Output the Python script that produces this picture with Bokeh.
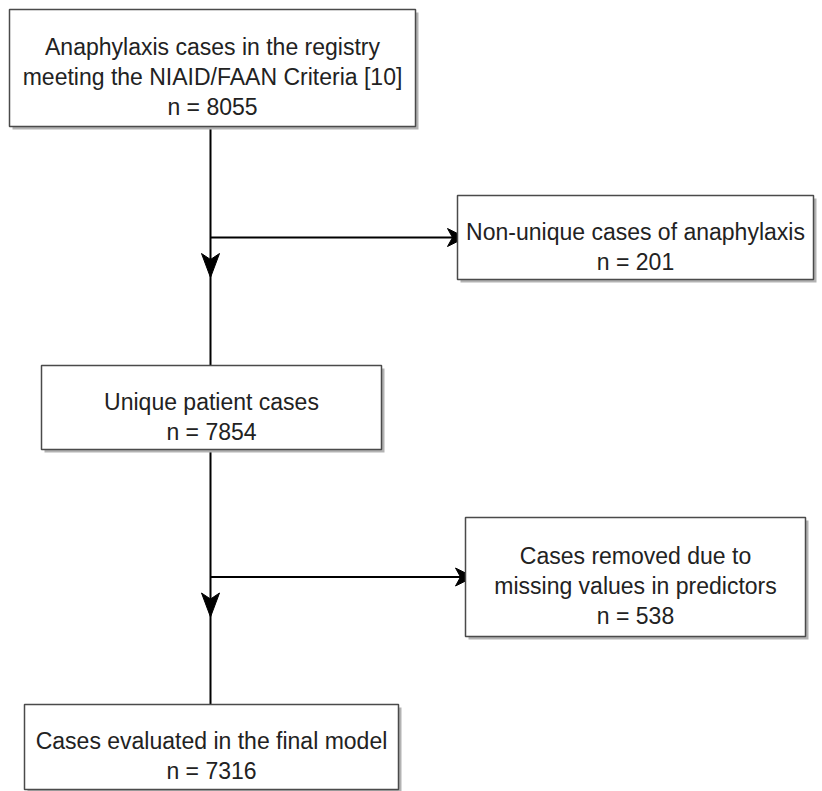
from bokeh.plotting import figure
from bokeh.models import Range1d
from bokeh.core.properties import value
from bokeh.embed import file_html
from bokeh.resources import INLINE

# ---- content ----
labels = [
    "Anaphylaxis cases in the registry\nmeeting the NIAID/FAAN Criteria [10]",
    "Non-unique cases of anaphylaxis",
    "Unique patient cases",
    "Cases removed due to\nmissing values in predictors",
    "Cases evaluated in the final model",
]
counts = [8055, 201, 7854, 538, 7316]

# ---- layout (pixel coordinates, y downward) ----
box_left = [9, 457, 41, 465, 24]
box_top = [9, 195, 365, 517, 704]
box_right = [415, 813, 381, 805, 398]
box_bottom = [126, 279, 449, 636, 789]

trunk_x = 210
main_boxes = [0, 2, 4]      # boxes on the vertical trunk
side_boxes = [1, 3]         # exclusion boxes
FONT = "Liberation Sans"
FS = 23
LINE_GAP = 30
CAP = 16.7

W, H = 822, 791
p = figure(width=W, height=H, output_backend="svg", toolbar_location=None,
           x_range=Range1d(0, W), y_range=Range1d(H, 0),
           min_border=0)
p.styles = {"position": "absolute", "left": "0px", "top": "0px"}
p.axis.visible = False
p.grid.visible = False
p.outline_line_color = None
p.background_fill_color = "white"
p.border_fill_color = "white"

# ---- connectors ----
LINE_W = 2
# vertical trunk segments between main boxes
for a, b in zip(main_boxes[:-1], main_boxes[1:]):
    p.line([trunk_x, trunk_x], [box_bottom[a], box_top[b]], line_color="black", line_width=LINE_W)

# horizontal branches to side boxes and arrowheads
for s in side_boxes:
    cy = (box_top[s] + box_bottom[s]) / 2
    tip_x = box_left[s] + 8
    p.line([trunk_x, tip_x - 10], [cy, cy], line_color="black", line_width=LINE_W)
    # right-pointing classic arrowhead
    L, N, HW = 18, 13, 9
    p.patch([tip_x, tip_x - L, tip_x - N, tip_x - L],
            [cy, cy - HW, cy, cy + HW], fill_color="black", line_color="black", line_width=1)
    # down-pointing arrowhead on the trunk below the branch
    tip_y = cy + 40
    L2, N2, HW2 = 24, 18, 9
    p.patch([trunk_x, trunk_x - HW2, trunk_x, trunk_x + HW2],
            [tip_y, tip_y - L2, tip_y - N2, tip_y - L2], fill_color="black", line_color="black", line_width=1)

# ---- boxes ----
SH = 3
p.quad(left=[l + SH for l in box_left], right=[r + SH for r in box_right],
       top=[t + SH for t in box_top], bottom=[b + SH for b in box_bottom],
       fill_color="#b3b3b3", line_color=None)
p.quad(left=box_left, right=box_right, top=box_top, bottom=box_bottom,
       fill_color="white", line_color="#4a4a4a", line_width=1.5)

# ---- texts ----
xs, ys, ts = [], [], []
for i, (lab, n) in enumerate(zip(labels, counts)):
    lines = lab.split("\n") + [f"n = {n}"]
    cx = (box_left[i] + box_right[i]) / 2
    cy = (box_top[i] + box_bottom[i]) / 2
    block = CAP + LINE_GAP * (len(lines) - 1)
    first = cy - block / 2 + CAP + 1
    for k, t in enumerate(lines):
        xs.append(cx)
        ys.append(first + k * LINE_GAP)
        ts.append(t)

p.text(x=xs, y=ys, text=ts, text_font=value(FONT), text_font_size=value(f"{FS}px"),
       text_align="center", text_baseline="alphabetic", text_color="#222222")

open("out.html", "w").write(file_html(p, INLINE))
